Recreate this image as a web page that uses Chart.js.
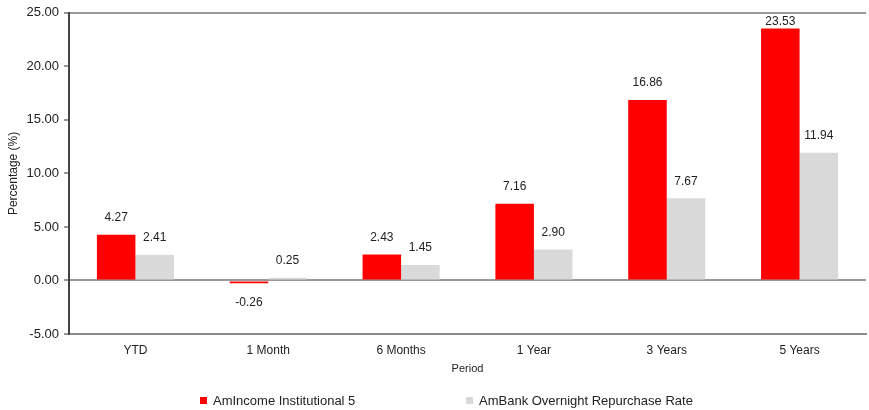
<!DOCTYPE html>
<html>
<head>
<meta charset="utf-8">
<script src="https://cdn.jsdelivr.net/npm/chart.js@4"></script>
<style>
  html, body { margin: 0; padding: 0; background: #fff; }
  #wrap { width: 869px; height: 410px; }
</style>
</head>
<body>
<div id="wrap"><canvas id="myChart" width="869" height="410"></canvas></div>
<script>
    // data
    var periods = ['YTD', '1 Month', '6 Months', '1 Year', '3 Years', '5 Years'];
    var fundName = 'AmIncome Institutional 5';
    var benchName = 'AmBank Overnight Repurchase Rate';
    var fundValues = [4.27, -0.26, 2.43, 7.16, 16.86, 23.53];
    var benchValues = [2.41, 0.25, 1.45, 2.90, 7.67, 11.94];
    var yTicks = [-5, 0, 5, 10, 15, 20, 25];

    var FONT = '"Liberation Sans", Arial, Helvetica, sans-serif';
    Chart.defaults.font.family = FONT;
    Chart.defaults.color = '#222';

    // value labels over / under each bar
    var valueLabels = {
        id: 'valueLabels',
        afterDatasetsDraw: function(chart) {
            var c = chart.ctx;
            c.save();
            c.font = '12px ' + FONT;
            c.fillStyle = '#222';
            c.textAlign = 'center';
            c.textBaseline = 'middle';
            chart.data.datasets.forEach(function(ds, i) {
                var meta = chart.getDatasetMeta(i);
                meta.data.forEach(function(bar, j) {
                    var v = ds.data[j];
                    var y;
                    if (v >= 0) {
                        y = Math.max(bar.y - 17, chart.chartArea.top + 9);
                    } else {
                        y = bar.y + 19;
                    }
                    c.fillText(v.toFixed(2), bar.x, y);
                });
            });
            c.restore();
        }
    };

    // legend along the bottom, items spread wide like the original
    var bottomLegend = {
        id: 'bottomLegend',
        afterDraw: function(chart) {
            var c = chart.ctx;
            var starts = [0.230, 0.536];
            var y = chart.height - 9;
            c.save();
            c.font = '13px ' + FONT;
            c.textBaseline = 'middle';
            c.textAlign = 'left';
            chart.data.datasets.forEach(function(ds, i) {
                var x = Math.round(chart.width * starts[i]);
                c.fillStyle = ds.backgroundColor;
                c.fillRect(x, y - 4, 7, 7);
                c.fillStyle = '#222';
                c.fillText(ds.label, x + 13, y);
            });
            c.restore();
        }
    };

    var ctx = document.getElementById('myChart').getContext('2d');
    var chart = new Chart(ctx, {
        type: 'bar',
        data: {
            labels: periods,
            datasets: [{
                label: fundName,
                data: fundValues,
                backgroundColor: '#ff0000',
                borderWidth: 0,
                categoryPercentage: 0.58,
                barPercentage: 1.0
            }, {
                label: benchName,
                data: benchValues,
                backgroundColor: '#d9d9d9',
                borderWidth: 0,
                categoryPercentage: 0.58,
                barPercentage: 1.0
            }]
        },
        options: {
            responsive: false,
            animation: false,
            layout: { padding: { left: 0, right: 3, top: 12, bottom: 32 } },
            plugins: {
                legend: { display: false },
                tooltip: { enabled: false }
            },
            scales: {
                x: {
                    afterFit: function(s) { s.height = 44; },
                    grid: { display: false, drawTicks: false },
                    border: { display: true, color: '#8c8c8c', width: 2 },
                    ticks: { padding: 9, font: { size: 12 }, color: '#222' },
                    title: { display: true, text: 'Period', font: { size: 11 }, color: '#222', padding: { top: 2, bottom: 2 } }
                },
                y: {
                    min: -5,
                    max: 25,
                    afterFit: function(s) { s.width = 69; },
                    afterBuildTicks: function(s) {
                        s.ticks = yTicks.map(function(v) { return { value: v }; });
                    },
                    grid: {
                        color: function(ctx) {
                            var v = ctx.tick ? ctx.tick.value : null;
                            return (v === 0 || v === 25) ? '#9a9a9a' : 'rgba(0,0,0,0)';
                        },
                        lineWidth: 2,
                        drawTicks: true,
                        tickLength: 5,
                        tickColor: '#333',
                        tickWidth: 1
                    },
                    border: { display: true, color: '#444', width: 2 },
                    ticks: {
                        padding: 5,
                        font: { size: 13 },
                        color: '#222',
                        callback: function(v) { return Number(v).toFixed(2); }
                    },
                    title: { display: true, text: 'Percentage (%)', font: { size: 12 }, color: '#222', padding: { top: 6, bottom: 0 } }
                }
            }
        },
        plugins: [valueLabels, bottomLegend]
    });
</script>
</body>
</html>
